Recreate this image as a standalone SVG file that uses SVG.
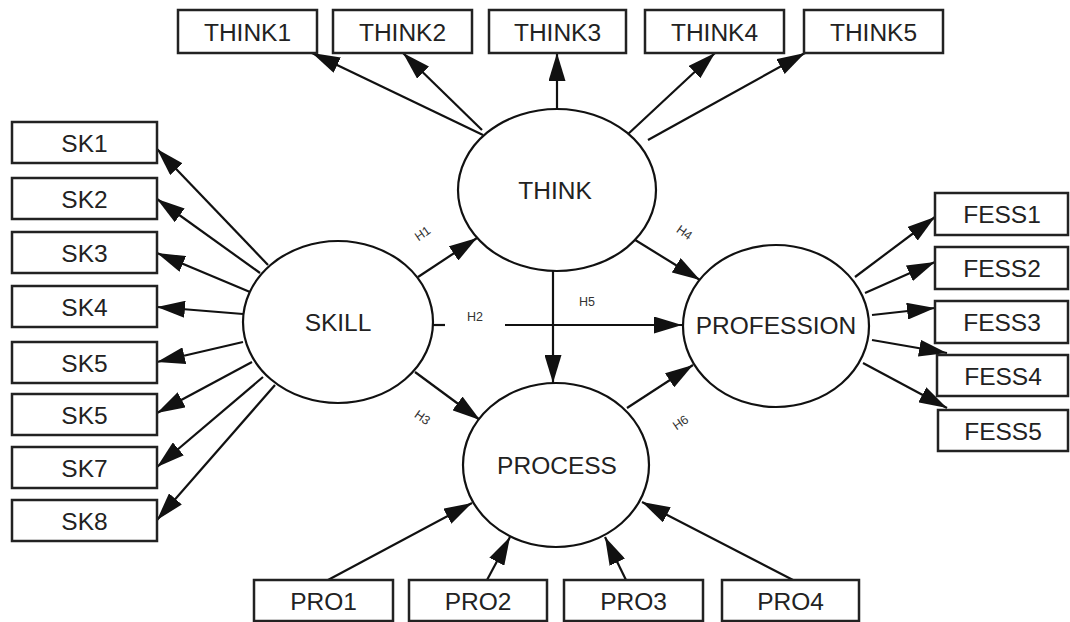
<svg xmlns="http://www.w3.org/2000/svg" width="1070" height="622" viewBox="0 0 1070 622">
  <style>
    .box { fill: #fff; stroke: #222; stroke-width: 2.5; }
    .lat { fill: #fff; stroke: #111; stroke-width: 2.2; }
    .lbl { font-family: "Liberation Sans", Arial, sans-serif; font-size: 24.5px; fill: #222; text-anchor: middle; }
    .hyp { font-family: "Liberation Sans", Arial, sans-serif; font-size: 12.5px; fill: #333; text-anchor: middle; }
    .edge { stroke: #111; stroke-width: 2.2; fill: none; marker-end: url(#arr); }
    .plain { stroke: #111; stroke-width: 2.2; fill: none; }
  </style>
  <defs>
    <marker id="arr" markerUnits="userSpaceOnUse" markerWidth="28" markerHeight="17" refX="28" refY="8.5" orient="auto">
      <path d="M0,0 L28,8.5 L0,17 z" fill="#111"/>
    </marker>
  </defs>
  <rect width="1070" height="622" fill="#fff"/>

  <!-- connectors -->
  <g id="connectors">
    <!-- THINK indicators -->
    <line class="edge" x1="483" y1="135" x2="312" y2="53"/>
    <line class="edge" x1="482" y1="130" x2="403" y2="53"/>
    <line class="edge" x1="557" y1="108" x2="557" y2="53"/>
    <line class="edge" x1="627" y1="135" x2="715" y2="53"/>
    <line class="edge" x1="648" y1="140" x2="805" y2="53"/>
    <!-- SKILL indicators -->
    <line class="edge" x1="268" y1="265" x2="157" y2="149"/>
    <line class="edge" x1="260" y1="273" x2="157" y2="199"/>
    <line class="edge" x1="250" y1="292" x2="157" y2="253"/>
    <line class="edge" x1="243" y1="314" x2="157" y2="307"/>
    <line class="edge" x1="243" y1="342" x2="157" y2="362"/>
    <line class="edge" x1="252" y1="362" x2="157" y2="413"/>
    <line class="edge" x1="263" y1="377" x2="157" y2="467"/>
    <line class="edge" x1="275" y1="385" x2="157" y2="520"/>
    <!-- structural paths -->
    <line class="edge" x1="418" y1="277" x2="477" y2="238"/>
    <line class="plain" x1="433" y1="325" x2="445" y2="325"/>
    <line class="edge" x1="505" y1="325" x2="682" y2="325"/>
    <line class="edge" x1="553" y1="271" x2="553" y2="383"/>
    <line class="edge" x1="415" y1="372" x2="480" y2="420"/>
    <line class="edge" x1="632" y1="238" x2="700" y2="280"/>
    <line class="edge" x1="627" y1="408" x2="693" y2="365"/>
    <!-- PROFESSION indicators -->
    <line class="edge" x1="855" y1="277" x2="935" y2="217"/>
    <line class="edge" x1="865" y1="293" x2="935" y2="262"/>
    <line class="edge" x1="872" y1="315" x2="935" y2="308"/>
    <line class="edge" x1="872" y1="340" x2="947" y2="353"/>
    <line class="edge" x1="863" y1="363" x2="947" y2="408"/>
    <!-- PROCESS indicators -->
    <line class="edge" x1="328" y1="580" x2="472" y2="503"/>
    <line class="edge" x1="487" y1="580" x2="510" y2="537"/>
    <line class="edge" x1="626" y1="580" x2="605" y2="537"/>
    <line class="edge" x1="793" y1="580" x2="642" y2="502"/>
    <!-- path labels -->
    <text class="hyp" transform="translate(425,237) rotate(-35)">H1</text>
    <text class="hyp" x="475" y="321">H2</text>
    <text class="hyp" transform="translate(420,421) rotate(35)">H3</text>
    <text class="hyp" transform="translate(682,236) rotate(35)">H4</text>
    <text class="hyp" x="587" y="306">H5</text>
    <text class="hyp" transform="translate(683,426) rotate(-35)">H6</text>
  </g>

  <!-- latent variables -->
  <g id="THINK"><ellipse class="lat" cx="557" cy="190" rx="99" ry="81"/><text class="lbl" x="555" y="199">THINK</text></g>
  <g id="SKILL"><ellipse class="lat" cx="338" cy="322" rx="95" ry="81"/><text class="lbl" x="338" y="331">SKILL</text></g>
  <g id="PROFESSION"><ellipse class="lat" cx="776" cy="326" rx="93" ry="81"/><text class="lbl" x="776" y="334">PROFESSION</text></g>
  <g id="PROCESS"><ellipse class="lat" cx="556" cy="465" rx="93" ry="82"/><text class="lbl" x="557" y="474">PROCESS</text></g>

  <!-- THINK indicators -->
  <g id="THINK1"><rect class="box" x="178" y="10" width="139" height="43"/><text class="lbl" x="247.5" y="40.5">THINK1</text></g>
  <g id="THINK2"><rect class="box" x="333" y="10" width="139" height="43"/><text class="lbl" x="402.5" y="40.5">THINK2</text></g>
  <g id="THINK3"><rect class="box" x="489" y="10" width="137" height="43"/><text class="lbl" x="557.5" y="40.5">THINK3</text></g>
  <g id="THINK4"><rect class="box" x="645" y="10" width="139" height="43"/><text class="lbl" x="714.5" y="40.5">THINK4</text></g>
  <g id="THINK5"><rect class="box" x="804" y="10" width="139" height="43"/><text class="lbl" x="873.5" y="40.5">THINK5</text></g>

  <!-- SKILL indicators -->
  <g id="SK1"><rect class="box" x="12" y="122" width="145" height="41"/><text class="lbl" x="84.5" y="151.5">SK1</text></g>
  <g id="SK2"><rect class="box" x="12" y="178" width="145" height="41"/><text class="lbl" x="84.5" y="207.5">SK2</text></g>
  <g id="SK3"><rect class="box" x="12" y="232" width="145" height="41"/><text class="lbl" x="84.5" y="261.5">SK3</text></g>
  <g id="SK4"><rect class="box" x="12" y="286" width="145" height="41"/><text class="lbl" x="84.5" y="315.5">SK4</text></g>
  <g id="SK5"><rect class="box" x="12" y="342" width="145" height="41"/><text class="lbl" x="84.5" y="371.5">SK5</text></g>
  <g id="SK6"><rect class="box" x="12" y="394" width="145" height="41"/><text class="lbl" x="84.5" y="423.5">SK5</text></g>
  <g id="SK7"><rect class="box" x="12" y="447" width="145" height="41"/><text class="lbl" x="84.5" y="476.5">SK7</text></g>
  <g id="SK8"><rect class="box" x="12" y="500" width="145" height="41"/><text class="lbl" x="84.5" y="529.5">SK8</text></g>

  <!-- PROFESSION indicators -->
  <g id="FESS1"><rect class="box" x="935" y="193" width="133" height="42"/><text class="lbl" x="1002" y="223">FESS1</text></g>
  <g id="FESS2"><rect class="box" x="935" y="247" width="133" height="42"/><text class="lbl" x="1002" y="277">FESS2</text></g>
  <g id="FESS3"><rect class="box" x="935" y="301" width="133" height="42"/><text class="lbl" x="1002" y="331">FESS3</text></g>
  <g id="FESS4"><rect class="box" x="937" y="355" width="131" height="41"/><text class="lbl" x="1003" y="384.5">FESS4</text></g>
  <g id="FESS5"><rect class="box" x="938" y="410" width="130" height="41"/><text class="lbl" x="1003" y="439.5">FESS5</text></g>

  <!-- PROCESS indicators -->
  <g id="PRO1"><rect class="box" x="254" y="580" width="139" height="41"/><text class="lbl" x="323.5" y="609.5">PRO1</text></g>
  <g id="PRO2"><rect class="box" x="409" y="580" width="138" height="41"/><text class="lbl" x="478" y="609.5">PRO2</text></g>
  <g id="PRO3"><rect class="box" x="564" y="580" width="139" height="41"/><text class="lbl" x="633.5" y="609.5">PRO3</text></g>
  <g id="PRO4"><rect class="box" x="722" y="580" width="137" height="41"/><text class="lbl" x="790.5" y="609.5">PRO4</text></g>
</svg>
